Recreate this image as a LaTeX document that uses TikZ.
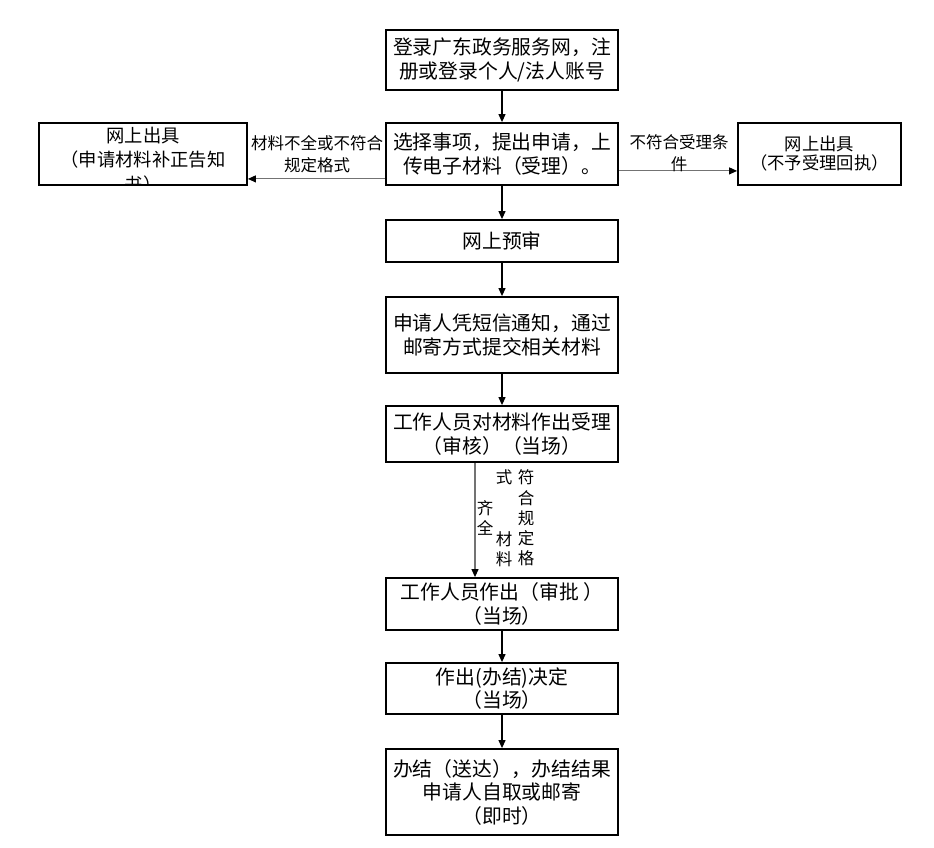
\documentclass[tikz,border=0pt]{standalone}
\usepackage{fontspec}
\newfontfamily\cjk{Noto Sans CJK SC}
\usetikzlibrary{arrows.meta,calc}
\begin{document}
\begin{tikzpicture}[x=1pt,y=-1pt,
  box/.style={draw=black,line width=1.8pt,minimum width=232pt,inner sep=0pt,align=center,
    font=\cjk\fontsize{19.8}{23.5}\selectfont},
  sidebox/.style={draw=black,line width=1.8pt,inner sep=0pt,align=center,
    font=\cjk\fontsize{17.3}{19}\selectfont},
  lbl/.style={inner sep=0pt,align=center,font=\cjk\fontsize{16.5}{22}\selectfont},
  vch/.style={inner sep=0pt,font=\cjk\fontsize{16.5}{17}\selectfont},
  arr/.style={-{Triangle[length=8pt,width=7pt]},line width=1.1pt,black},
  garr/.style={line width=1.1pt,black!55,
    arrows={-{Triangle[length=8pt,width=7pt,color=black]}}}
]
\useasboundingbox (0,0) rectangle (934,847);
\fill[white] (0,0) rectangle (934,847);

\node[box,minimum height=60pt] (b1) at (502,60) {登录广东政务服务网，注\\册或登录个人/法人账号};
\node[box,minimum height=62pt] (b2) at (502,154) {选择事项，提出申请，上\\传电子材料（受理）。};
\node[sidebox,minimum width=208pt,minimum height=62pt] (bl) at (143,154) {};
\begin{scope}
\clip (bl.south west) rectangle (bl.north east);
\node[inner sep=0pt,align=center,font=\cjk\fontsize{18.3}{24.5}\selectfont] (blt) at (143,160) {网上出具\\（申请材料补正告知\\书）};
\end{scope}
\node[sidebox,minimum width=163pt,minimum height=62pt] (br) at (819.5,154) {网上出具\\（不予受理回执）};
\node[box,minimum height=42pt] (b3) at (502,241) {网上预审};
\node[box,minimum height=76pt] (b4) at (502,335) {申请人凭短信通知，通过\\邮寄方式提交相关材料};
\node[box,minimum height=56pt] (b5) at (502,434) {工作人员对材料作出受理\\（审核）（当场）};
\node[box,minimum height=52pt] (b6) at (502,604) {工作人员作出（审批 ）\\（当场）};
\node[box,minimum height=51pt] (b7) at (502,688.5) {作出(办结)决定\\（当场）};
\node[box,minimum height=86pt] (b8) at (502,792) {办结（送达），办结结果\\申请人自取或邮寄\\（即时）};

\draw[arr] (b1) -- (b2);
\draw[arr] (b2) -- (b3);
\draw[arr] (b3) -- (b4);
\draw[arr] (b4) -- (b5);
\draw[arr] (b6) -- (b7);
\draw[arr] (b7) -- (b8);

\coordinate (lstart) at ([yshift=7pt]b2.south west);
\draw[garr] (lstart) -- (lstart -| bl.east);
\node[lbl] (ll) at (317,154) {材料不全或不符合\\规定格式};

\coordinate (rstart) at ([yshift=15pt]b2.south east);
\draw[garr] (rstart) -- (rstart -| br.west);
\node[lbl] (rl) at (679,153) {不符合受理条\\件};

\draw[garr] ([xshift=-27pt]b5.south) -- ([xshift=-27pt]b6.north);
\node[vch] (v1) at (485,508) {齐};
\node[vch] (v2) at (485,528) {全};
\node[vch] (v3) at (504,477) {式};
\node[vch] (v4) at (504,539) {材};
\node[vch] (v5) at (504,559) {料};
\node[vch] (v6) at (526,477) {符};
\node[vch] (v7) at (526,498) {合};
\node[vch] (v8) at (526,518) {规};
\node[vch] (v9) at (526,538) {定};
\node[vch] (v10) at (526,558) {格};
\end{tikzpicture}
\end{document}
